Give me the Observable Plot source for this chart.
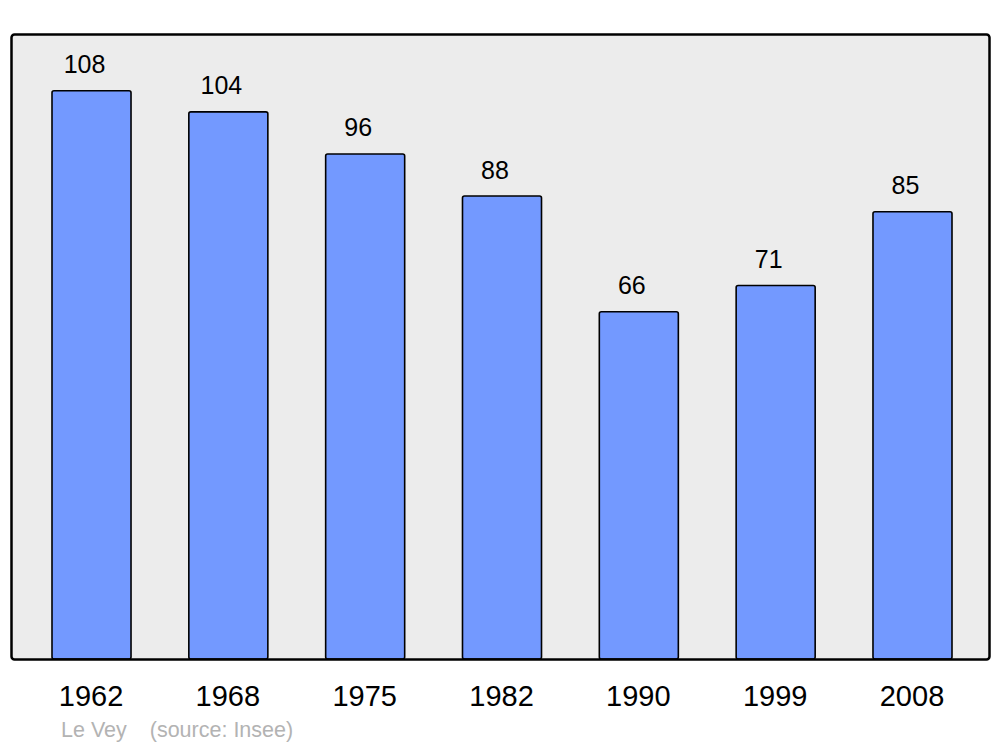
<!DOCTYPE html>
<html>
<head>
<meta charset="utf-8">
<script src="https://cdn.jsdelivr.net/npm/d3@7"></script>
<script src="https://cdn.jsdelivr.net/npm/@observablehq/plot@0.6"></script>
<style>
  html, body { margin: 0; padding: 0; background: #fff; }
  #chart svg { display: block; }
  #caption { font-family: "Liberation Sans", Arial, sans-serif; font-size: 21.5px; line-height: 24px; color: #b3b3b3; margin-top: 2px; padding-left: 61px; white-space: pre; }
</style>
</head>
<body>
<div id="chart"></div>
<div id="caption"><span>Le Vey</span><span style="margin-left:23px">(source: Insee)</span></div>
<script>
const years = ["1962", "1968", "1975", "1982", "1990", "1999", "2008"];
const population = [108, 104, 96, 88, 66, 71, 85];

const data = years.map((year, i) => ({year, value: population[i]}));

const chart = Plot.plot({
  width: 1000,
  height: 716,
  marginLeft: 11,
  marginRight: 11,
  marginTop: 34,
  marginBottom: 57,
  style: {fontFamily: "'Liberation Sans', Arial, sans-serif", background: "transparent"},
  x: {type: "band", domain: years, range: [52, 952], paddingInner: 0.4225, paddingOuter: 0, round: false},
  y: {domain: [0, 118.8], axis: null},
  marks: [
    Plot.frame({fill: "#ececec", stroke: null, rx: 3}),
    Plot.barY(data, {x: "year", y: "value", fill: "#7399ff", stroke: "#000", strokeWidth: 1.6, rx: 2}),
    Plot.text(data, {x: "year", y: "value", text: d => String(d.value), dy: -18, dx: -7.5, lineAnchor: "bottom", fontSize: 25, fill: "#000"}),
    Plot.frame({stroke: "#000", strokeWidth: 2.5, rx: 3}),
    Plot.axisX({tickSize: 0, tickPadding: 26, fontSize: 29, dx: -1, color: "#000", label: null})
  ]
});
document.getElementById("chart").append(chart);
</script>
</body>
</html>
